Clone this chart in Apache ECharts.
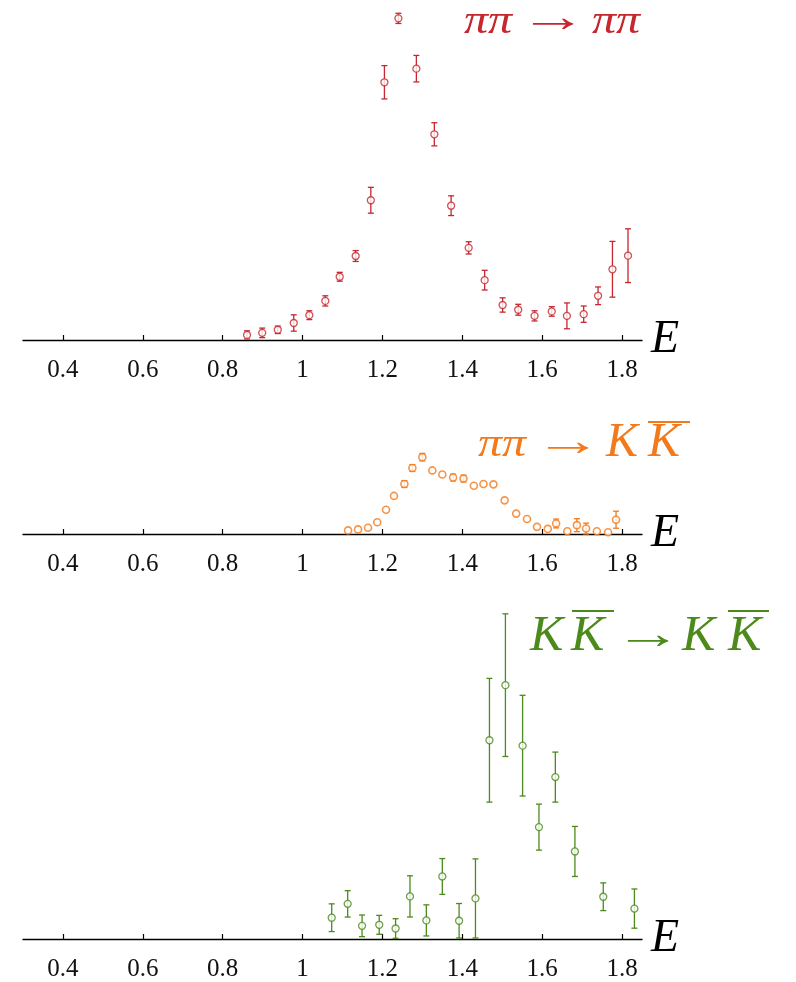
<!DOCTYPE html>
<html>
<head>
<meta charset="utf-8">
<script src="https://cdn.jsdelivr.net/npm/echarts@6/dist/echarts.min.js"></script>
<style>
html,body{margin:0;padding:0;background:#fff;}
#c{width:796px;height:982px;}
</style>
</head>
<body>
<div id="c"></div>
<script>
// ---------- data ----------
const TICKS = [0.4, 0.6, 0.8, 1.0, 1.2, 1.4, 1.6, 1.8];

// pi pi -> pi pi
const E_pp = [0.861,0.899,0.938,0.978,1.017,1.057,1.093,1.133,1.171,1.205,1.240,1.285,1.330,1.372,1.416,1.456,1.501,1.540,1.581,1.624,1.662,1.704,1.740,1.776,1.815];
const V_pp = [1.5,2.1,3.0,5.0,7.3,11.5,18.6,24.7,41.1,75.8,94.6,79.8,60.5,39.5,27.1,17.6,10.3,8.9,7.1,8.4,7.1,7.6,13.0,20.8,24.8];
const D_pp = [1.2,1.4,1.1,2.4,1.3,1.5,1.3,1.6,3.8,4.9,1.5,3.9,3.4,2.9,1.8,2.9,2.1,1.6,1.5,1.4,3.8,2.4,2.6,8.2,7.9];

// pi pi -> K Kbar
const E_pk = [1.114,1.139,1.164,1.187,1.209,1.229,1.255,1.275,1.300,1.325,1.350,1.377,1.403,1.429,1.453,1.478,1.506,1.535,1.562,1.587,1.614,1.635,1.663,1.687,1.710,1.737,1.765,1.785];
const V_pk = [1.06,1.35,1.85,3.44,7.15,11.2,14.7,19.4,22.6,18.7,17.5,16.6,16.3,14.2,14.7,14.6,9.9,6.0,4.4,2.1,1.5,3.1,0.8,2.6,1.6,0.8,0.5,4.2];
const D_pk = [0,0,0,0,0,0,1.0,1.0,1.1,0,0,1.0,1.0,0,0,0,0,0,0,0,0,1.3,0,1.9,1.6,0,0,2.5];

// K Kbar -> K Kbar
const E_kk = [1.073,1.113,1.149,1.192,1.233,1.269,1.310,1.350,1.392,1.433,1.468,1.508,1.551,1.592,1.633,1.682,1.753,1.831];
const V_kk = [6.3,10.4,3.9,4.2,3.1,12.6,5.5,18.5,5.4,12.0,58.8,75.1,57.2,33.1,47.9,25.9,12.5,9.0];
const D_kk = [4.1,3.9,3.2,2.8,2.9,6.1,4.6,5.3,5.1,11.7,18.3,21.1,14.9,6.8,7.4,7.4,4.1,5.8];

const RED = '#c6262e', ORANGE = '#f27a1c', GREEN = '#4b8a1b';
const SERIF = '"Liberation Serif", "Times New Roman", Times, serif';

// ---------- helpers ----------
function pts(E, V){ return E.map((e,i)=>[e, V[i]]); }
function errs(E, V, D){ return E.map((e,i)=>[e, Math.max(0, V[i]-D[i]), V[i]+D[i], D[i]]); }

function errSeries(idx, data, color){
  return {
    type:'custom', xAxisIndex:idx, yAxisIndex:idx, data:data, z:2, silent:true,
    renderItem:function(params, api){
      if (api.value(3) <= 0) return;
      const x = api.value(0);
      const lo = api.coord([x, api.value(1)]);
      const hi = api.coord([x, api.value(2)]);
      const w = 3;
      const st = {stroke:color, lineWidth:1.3};
      return {type:'group', children:[
        {type:'line', shape:{x1:lo[0], y1:lo[1], x2:hi[0], y2:hi[1]}, style:st},
        {type:'line', shape:{x1:lo[0]-w, y1:lo[1], x2:lo[0]+w, y2:lo[1]}, style:st},
        {type:'line', shape:{x1:hi[0]-w, y1:hi[1], x2:hi[0]+w, y2:hi[1]}, style:st}
      ]};
    }
  };
}
function ptSeries(idx, data, color, bw){
  return {
    type:'scatter', xAxisIndex:idx, yAxisIndex:idx, data:data, z:3, silent:true,
    symbol:'circle', symbolSize:7,
    itemStyle:{color:'#fff', borderColor:color, borderWidth:bw||1.3}
  };
}
function xAxis(idx){
  return {
    type:'value', gridIndex:idx, min:0.3, max:1.85,
    axisLine:{lineStyle:{color:'#000', width:1.4}},
    axisTick:{inside:true, length:5, customValues:TICKS, lineStyle:{color:'#000', width:1.2}},
    axisLabel:{customValues:TICKS, fontFamily:SERIF, fontSize:25, color:'#111', margin:18,
      formatter:function(v){ return String(+(+v).toFixed(1)); }},
    splitLine:{show:false},
    name:'E', nameLocation:'end', nameGap:9,
    nameTextStyle:{fontFamily:SERIF, fontStyle:'italic', fontSize:46, color:'#000',
      verticalAlign:'middle', align:'left'}
  };
}
function yAxis(idx, max){
  return {type:'value', gridIndex:idx, min:0, max:max, show:false};
}

// ---------- titles ----------
function tText(x, y, txt, color, italic, size, sx, sy){
  return {type:'text', x:x, y:y, silent:true, scaleX:sx||1, scaleY:sy||1,
    style:{text:txt, fill:color,
    font:(italic?'italic ':'') + (size||48) + 'px ' + SERIF, align:'left', verticalAlign:'middle'}};
}
function arrow(xc, y, color){
  return {type:'text', x:xc, y:y, silent:true, scaleX:1.55,
    style:{text:'→', fill:color, font:'44px ' + SERIF, align:'center', verticalAlign:'middle'}};
}
function bar(x1, x2, y, color){
  return {type:'line', silent:true, shape:{x1:x1, y1:y, x2:x2, y2:y}, style:{stroke:color, lineWidth:2}};
}

const graphics = [
  // pi pi -> pi pi
  tText(464, 22, 'ππ', RED, true, 48, 1.0, 0.85),
  arrow(553, 19, RED),
  tText(592, 22, 'ππ', RED, true, 48, 1.0, 0.85),
  // pi pi -> K Kbar
  tText(478, 445, 'ππ', ORANGE, true, 48, 1.0, 0.85),
  arrow(568, 443, ORANGE),
  tText(606, 443, 'K', ORANGE, true, 48),
  tText(648, 443, 'K', ORANGE, true, 48),
  bar(648, 690, 422, ORANGE),
  // K Kbar -> K Kbar
  tText(530, 637, 'K', GREEN, true, 50),
  tText(571, 637, 'K', GREEN, true, 50),
  bar(572, 614, 611, GREEN),
  arrow(648, 636, GREEN),
  tText(682, 637, 'K', GREEN, true, 50),
  tText(728, 637, 'K', GREEN, true, 50),
  bar(728, 769, 611, GREEN)
];

const chart = echarts.init(document.getElementById('c'), null, {renderer:'canvas'});
chart.setOption({
  animation:false,
  backgroundColor:'#fff',
  grid:[
    {left:23, width:619, top:0, height:340},
    {left:23, width:619, top:432, height:102},
    {left:23, width:619, top:601, height:340}
  ],
  xAxis:[xAxis(0), xAxis(1), xAxis(2)],
  yAxis:[yAxis(0,100), yAxis(1,30), yAxis(2,100)],
  series:[
    errSeries(0, errs(E_pp, V_pp, D_pp), RED),
    ptSeries(0, pts(E_pp, V_pp), RED),
    errSeries(1, errs(E_pk, V_pk, D_pk), ORANGE),
    ptSeries(1, pts(E_pk, V_pk), ORANGE, 1.6),
    errSeries(2, errs(E_kk, V_kk, D_kk), GREEN),
    ptSeries(2, pts(E_kk, V_kk), GREEN)
  ],
  graphic:graphics
});
</script>
</body>
</html>
